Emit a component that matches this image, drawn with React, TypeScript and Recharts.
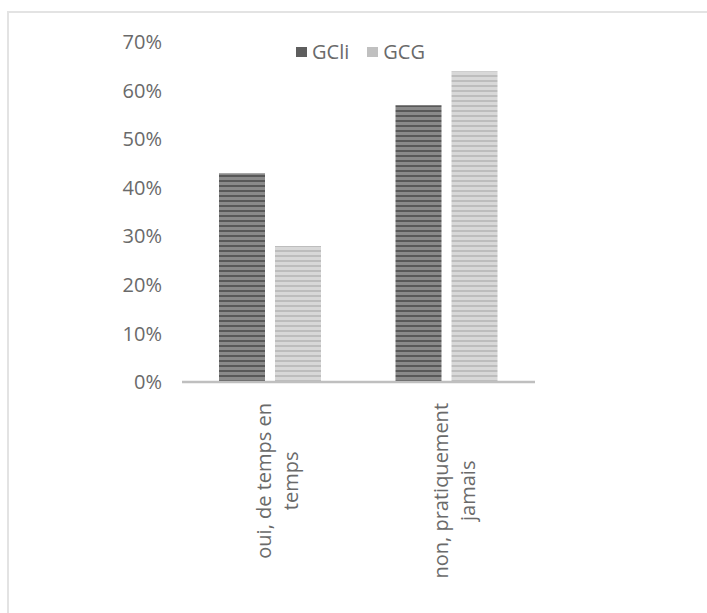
import React from 'react';
// npm
import { BarChart, Bar, XAxis, YAxis } from 'recharts';

const categories = ['oui, de temps en temps', 'non, pratiquement jamais'];
const categoryLines = [
  ['oui, de temps en', 'temps'],
  ['non, pratiquement', 'jamais'],
];
const gcli = [0.43, 0.57];
const gcg = [0.28, 0.64];
const yTicks = [0, 0.1, 0.2, 0.3, 0.4, 0.5, 0.6, 0.7];

const FONT = '"Open Sans", sans-serif';
const TEXT = '#6a6a6a';
const SIZE = 20;

const data = categories.map((name, i) => ({ name, GCli: gcli[i], GCG: gcg[i] }));

const measure = (text: string, size: number) => {
  const ctx = document.createElement('canvas').getContext('2d');
  if (!ctx) return text.length * size * 0.5;
  ctx.font = `${size}px "Open Sans"`;
  return ctx.measureText(text).width;
};

const CategoryTick = ({ x, y, index }: any) => {
  const lines = categoryLines[index] || [];
  const longest = Math.max(...lines.map((l) => measure(l, SIZE)));
  const mid = 13 + longest / 2;
  return (
    <g transform={`translate(${x},${y}) rotate(-90)`}>
      {lines.map((line, i) => (
        <text
          key={i}
          x={-mid}
          y={1 + i * 27}
          textAnchor="middle"
          fontFamily={FONT}
          fontSize={SIZE}
          fill={TEXT}
        >
          {line}
        </text>
      ))}
    </g>
  );
};

const ChartLegend = () => (
  <div style={{ display: 'flex', alignItems: 'center', fontFamily: FONT, fontSize: SIZE, color: TEXT }}>
    <span style={{ width: 11, height: 10, background: '#5e5e5e', display: 'inline-block', marginRight: 5 }} />
    <span style={{ marginRight: 18 }}>GCli</span>
    <span style={{ width: 11, height: 10, background: '#c0c0c0', display: 'inline-block', marginRight: 5 }} />
    <span>GCG</span>
  </div>
);

const App = () => {
  return (
    <div style={{ position: 'absolute', left: 0, top: 0, width: 707, height: 613, background: '#fff' }}>
      <div
        style={{
          position: 'absolute',
          left: 7,
          top: 11,
          width: 700,
          height: 602,
          borderTop: '2px solid #e3e3e3',
          borderLeft: '2px solid #e3e3e3',
        }}
      />
      <div style={{ position: 'absolute', left: 296, top: 38 }}>
        <ChartLegend />
      </div>
      <div style={{ position: 'absolute', left: 0, top: 0 }}>
        <BarChart
          width={707}
          height={613}
          data={data}
          margin={{ top: 42, right: 172, bottom: 0, left: 0 }}
          barGap={10}
          barSize={46}
        >
          <defs>
            <pattern id="stripeDark" width="6" height="5" patternUnits="userSpaceOnUse">
              <rect width="6" height="5" fill="#8a8a8a" />
              <rect width="6" height="2" fill="#585858" />
            </pattern>
            <pattern id="stripeLight" width="6" height="5" patternUnits="userSpaceOnUse">
              <rect width="6" height="5" fill="#d8d8d8" />
              <rect width="6" height="2" fill="#bdbdbd" />
            </pattern>
          </defs>
          <YAxis
            width={182}
            domain={[0, 0.7]}
            ticks={yTicks}
            axisLine={false}
            tickLine={false}
            tickSize={0}
            tickMargin={20}
            tickFormatter={(v: number) => `${Math.round(v * 100)}%`}
            tick={{ fontFamily: FONT, fontSize: SIZE, fill: TEXT }}
          />
          <XAxis
            dataKey="name"
            height={231}
            axisLine={{ stroke: '#bfbfbf', strokeWidth: 2.5 }}
            tickLine={false}
            tick={<CategoryTick />}
            interval={0}
          />
          <Bar dataKey="GCli" fill="url(#stripeDark)" isAnimationActive={false} />
          <Bar dataKey="GCG" fill="url(#stripeLight)" isAnimationActive={false} />
        </BarChart>
      </div>
    </div>
  );
};

export default App;
